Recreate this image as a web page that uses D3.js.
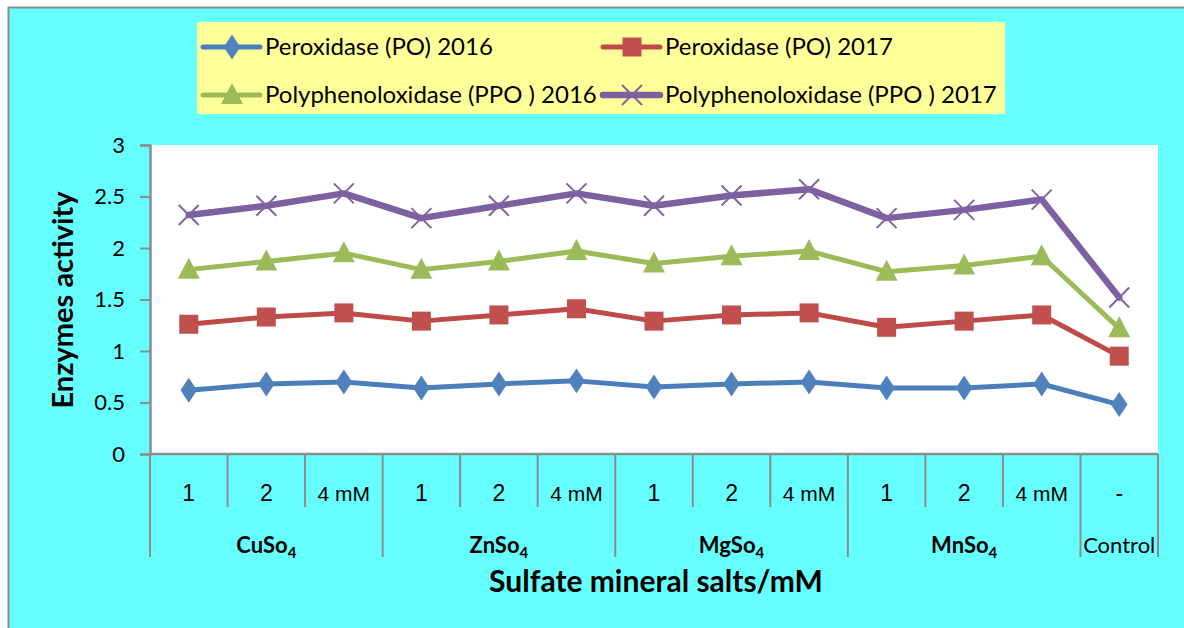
<!DOCTYPE html>
<html>
<head>
<meta charset="utf-8">
<script src="https://cdn.jsdelivr.net/npm/d3@7"></script>
<style>
  body { margin: 0; background: #fff; }
  svg text { font-family: Lato, "Open Sans", sans-serif; fill: #000; }
</style>
</head>
<body>
<svg id="chart" width="1184" height="628"></svg>
<script>
// Data
var LEVELS = ["1", "2", "4 mM", "1", "2", "4 mM", "1", "2", "4 mM", "1", "2", "4 mM", "-"];
var GROUPS = ["CuSo", "ZnSo", "MgSo", "MnSo", "Control"];
var GROUP_SIZE = [3, 3, 3, 3, 1];
var PO_2016 = [0.62, 0.68, 0.70, 0.64, 0.68, 0.71, 0.65, 0.68, 0.70, 0.64, 0.64, 0.68, 0.48];
var PO_2017 = [1.26, 1.33, 1.37, 1.29, 1.35, 1.41, 1.29, 1.35, 1.37, 1.23, 1.29, 1.35, 0.95];
var PPO_2016 = [1.79, 1.87, 1.95, 1.79, 1.87, 1.97, 1.85, 1.92, 1.97, 1.77, 1.83, 1.92, 1.22];
var PPO_2017 = [2.32, 2.41, 2.53, 2.29, 2.41, 2.53, 2.41, 2.51, 2.57, 2.29, 2.37, 2.47, 1.52];
var Y_TICKS = [0, 0.5, 1, 1.5, 2, 2.5, 3];

var series = [
    {name: "Peroxidase (PO) 2016", values: PO_2016, color: "#4A7EBB", mark: "#4F81BD", shape: "diamond", lw: 5},
    {name: "Peroxidase (PO) 2017", values: PO_2017, color: "#BE4B48", mark: "#C0504D", shape: "square", lw: 5},
    {name: "Polyphenoloxidase (PPO ) 2016", values: PPO_2016, color: "#9BBB59", mark: "#9BBB59", shape: "triangle", lw: 5},
    {name: "Polyphenoloxidase (PPO ) 2017", values: PPO_2017, color: "#7D60A0", mark: "#8064A2", shape: "cross", lw: 6.5}
];

var svg = d3.select("#chart");

// chart background + frame (left and top edge only visible)
svg.append("rect").attr("x", 8.5).attr("y", 7.5).attr("width", 1190).attr("height", 640)
    .attr("fill", "#66FFFF").attr("stroke", "#8C8C8C").attr("stroke-width", 2);

var plot = {left: 150, right: 1158, top: 145, bottom: 454};

var x = d3.scaleBand().domain(d3.range(LEVELS.length)).range([plot.left, plot.right]);
var y = d3.scaleLinear().domain([0, 3]).range([plot.bottom, plot.top]);

// plot area
svg.append("rect").attr("x", plot.left).attr("y", plot.top)
    .attr("width", plot.right - plot.left).attr("height", plot.bottom - plot.top)
    .attr("fill", "#fff");

// y axis
var yAxis = svg.append("g").attr("transform", "translate(" + plot.left + ",0)")
    .call(d3.axisLeft(y).tickValues(Y_TICKS).tickSize(10).tickPadding(15).tickFormat(d3.format("")));
yAxis.select(".domain").attr("stroke", "#8C8C8C").attr("stroke-width", 2.5);
yAxis.selectAll(".tick line").attr("stroke", "#8C8C8C").attr("stroke-width", 2);
yAxis.selectAll(".tick text").attr("font-size", 22).attr("fill", "#000");

// x axis line
svg.append("line").attr("x1", plot.left).attr("x2", plot.right)
    .attr("y1", plot.bottom).attr("y2", plot.bottom)
    .attr("stroke", "#8C8C8C").attr("stroke-width", 2.5);

// category separators
var groupStarts = [];
var acc = 0;
GROUP_SIZE.forEach(function(n) { groupStarts.push(acc); acc += n; });
groupStarts.push(acc);

for (var i = 0; i <= LEVELS.length; i++) {
    var xp = i < LEVELS.length ? x(i) : plot.right;
    var isGroup = groupStarts.indexOf(i) >= 0;
    svg.append("line").attr("x1", xp).attr("x2", xp)
        .attr("y1", plot.bottom).attr("y2", isGroup ? 557 : 507)
        .attr("stroke", "#8C8C8C").attr("stroke-width", 2);
}

// level labels
svg.selectAll(".lvl").data(LEVELS).enter().append("text")
    .attr("class", "lvl")
    .attr("x", function(d, i) { return x(i) + x.bandwidth() / 2; })
    .attr("y", 501)
    .attr("text-anchor", "middle")
    .attr("font-size", function(d) { return d.length > 2 ? 21 : 23; })
    .style("font-family", "'Liberation Sans', Arial, sans-serif")
    .text(function(d) { return d; });

// group labels
GROUPS.forEach(function(g, gi) {
    var a = x(groupStarts[gi]);
    var b = groupStarts[gi + 1] < LEVELS.length ? x(groupStarts[gi + 1]) : plot.right;
    var t = svg.append("text").attr("x", (a + b) / 2).attr("y", 553)
        .attr("text-anchor", "middle").attr("font-size", 22);
    if (g === "Control") {
        t.text(g);
    } else {
        t.attr("font-weight", "bold");
        t.append("tspan").text(g);
        t.append("tspan").attr("font-size", 15).attr("dy", 5).text("4");
    }
});

// axis titles
svg.append("text").attr("x", 656).attr("y", 592).attr("text-anchor", "middle")
    .attr("font-size", 30).attr("font-weight", "bold").text("Sulfate mineral salts/mM");
svg.append("text").attr("transform", "translate(73,300) rotate(-90)").attr("text-anchor", "middle")
    .attr("font-size", 29).attr("font-weight", "bold").text("Enzymes activity");

// markers
function drawMarker(g, shape, cx, cy, color) {
    if (shape === "diamond") {
        g.append("path").attr("d", d3.symbol(d3.symbolDiamond, 180)())
            .attr("transform", "translate(" + cx + "," + cy + ") scale(1.15,1)").attr("fill", color);
    } else if (shape === "square") {
        g.append("rect").attr("x", cx - 9.5).attr("y", cy - 9.5).attr("width", 19).attr("height", 19)
            .attr("fill", color);
    } else if (shape === "triangle") {
        g.append("path").attr("d", "M" + cx + "," + (cy - 12) + "L" + (cx + 11) + "," + (cy + 9) + "L" + (cx - 11) + "," + (cy + 9) + "Z")
            .attr("fill", color);
    } else {
        g.append("path").attr("d", "M" + (cx - 10) + "," + (cy - 10) + "L" + (cx + 10) + "," + (cy + 10) +
            "M" + (cx - 10) + "," + (cy + 10) + "L" + (cx + 10) + "," + (cy - 10))
            .attr("stroke", color).attr("stroke-width", 2).attr("fill", "none");
    }
}

var line = d3.line()
    .x(function(d, i) { return x(i) + x.bandwidth() / 2; })
    .y(function(d) { return y(d); });

series.forEach(function(s) {
    var g = svg.append("g");
    g.append("path").datum(s.values).attr("d", line)
        .attr("fill", "none").attr("stroke", s.color).attr("stroke-width", s.lw)
        .attr("stroke-linejoin", "round").attr("stroke-linecap", "round");
    s.values.forEach(function(v, i) {
        drawMarker(g, s.shape, x(i) + x.bandwidth() / 2, y(v), s.mark);
    });
});

// legend
svg.append("rect").attr("x", 197).attr("y", 22).attr("width", 808).attr("height", 92).attr("fill", "#FFFF99");
var legendPos = [[203, 47], [603, 47], [203, 95], [603, 95]];
series.forEach(function(s, i) {
    var lx = legendPos[i][0], ly = legendPos[i][1];
    var g = svg.append("g");
    g.append("line").attr("x1", lx).attr("x2", lx + 57).attr("y1", ly).attr("y2", ly)
        .attr("stroke", s.color).attr("stroke-width", s.lw).attr("stroke-linecap", "round");
    drawMarker(g, s.shape, lx + 29, ly, s.mark);
    g.append("text").attr("x", lx + 62).attr("y", ly + 8).attr("font-size", 24).text(s.name);
});
</script>
</body>
</html>
